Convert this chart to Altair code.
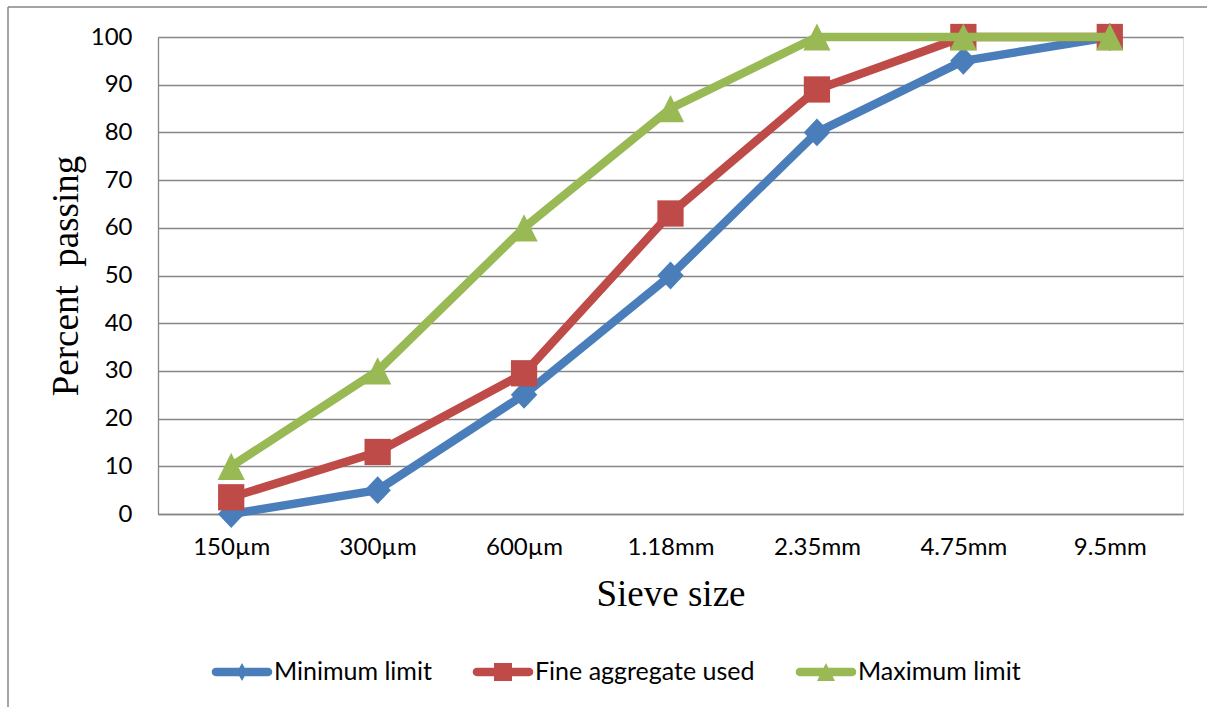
import altair as alt
import pandas as pd

sieve = ["150µm", "300µm", "600µm", "1.18mm", "2.35mm", "4.75mm", "9.5mm"]
series_names = ["Minimum limit", "Fine aggregate used", "Maximum limit"]
minimum = [0, 5, 25, 50, 80, 95, 100]
fine = [3.5, 13, 29.5, 63, 89, 100, 100]
maximum = [10, 30, 60, 85, 100, 100, 100]
colors = ["#4A7EBB", "#BE4B48", "#98B954"]

values = [minimum, fine, maximum]
rows = []
for name, vals in zip(series_names, values):
    for s, v in zip(sieve, vals):
        rows.append({"sieve": s, "pct": v, "series": name})
df = pd.DataFrame(rows)

marker_paths = [
    "M0,-1.05L1,0L0,1.05L-1,0Z",
    "M-1,-1L1,-1L1,1L-1,1Z",
    "M0,-1L1,1L-1,1Z",
]
marker_sizes = [700, 690, 740]

bar = "M-0.87,-0.14L0.87,-0.14A0.14,0.14 0 0 1 0.87,0.14L-0.87,0.14A0.14,0.14 0 0 1 -0.87,-0.14Z"
legend_paths = [
    bar + " M0,-0.3L0.167,0L0,0.3L-0.167,0Z",
    bar + " M-0.3,-0.3L0.3,-0.3L0.3,0.3L-0.3,0.3Z",
    bar + " M0,-0.3L0.3,0.3L-0.3,0.3Z",
]

x_enc = alt.X(
    "sieve:N",
    sort=sieve,
    scale=alt.Scale(padding=0.5),
    axis=alt.Axis(
        title="Sieve size",
        grid=False,
        ticks=False,
        labelAngle=0,
        labelFont="Lato",
        labelFontSize=24,
        labelColor="#000000",
        labelPadding=21,
        domainColor="#868686",
        domainWidth=1.3,
        titleFont="Liberation Serif",
        titleFontSize=37,
        titleFontWeight="normal",
        titleColor="#000000",
        titleBaseline="alphabetic",
        titleX=512.5,
        titleY=91,
    ),
)
y_enc = alt.Y(
    "pct:Q",
    scale=alt.Scale(domain=[0, 100], nice=False),
    axis=alt.Axis(
        title="Percent\u00a0 passing",
        values=list(range(0, 101, 10)),
        ticks=False,
        grid=True,
        gridColor="#868686",
        gridWidth=1.3,
        domainColor="#868686",
        domainWidth=1.3,
        labelFont="Lato",
        labelFontSize=24,
        labelColor="#000000",
        labelPadding=26,
        titleFont="Liberation Serif",
        titleFontSize=37,
        titleFontWeight="normal",
        titleColor="#000000",
        titleBaseline="alphabetic",
        titleAngle=-90,
        titleX=-81,
        titleY=238.5,
    ),
)

layers = []
for name, col, path, size in zip(series_names, colors, marker_paths, marker_sizes):
    base = alt.Chart(df).transform_filter(alt.datum.series == name)
    layers.append(
        base.mark_line(color=col, strokeWidth=8.5, strokeJoin="round", strokeCap="round").encode(x=x_enc, y=y_enc)
    )
    layers.append(
        base.mark_point(shape=path, size=size, filled=True, color=col, opacity=1).encode(x=x_enc, y=y_enc)
    )

leg = alt.Legend(
    title=None,
    orient="none",
    direction="horizontal",
    legendX=54,
    legendY=605,
    symbolSize=3600,
    symbolOpacity=1,
    symbolStrokeWidth=0,
    labelFont="Lato",
    labelFontSize=25,
    labelColor="#000000",
    labelOffset=2,
    labelLimit=0,
    columnPadding=40,
    padding=0,
)
legend_layer = alt.Chart(df).mark_point(filled=True, opacity=0).encode(
    x=x_enc,
    y=y_enc,
    color=alt.Color("series:N", scale=alt.Scale(domain=series_names, range=colors), legend=leg),
    shape=alt.Shape("series:N", scale=alt.Scale(domain=series_names, range=legend_paths), legend=leg),
)

frame_df = pd.DataFrame({"a": [0]})
frame_left = alt.Chart(frame_df).mark_rule(color="#868686", strokeWidth=1.5).encode(
    x=alt.value(-150), y=alt.value(-30), y2=alt.value(670)
)
frame_top = alt.Chart(frame_df).mark_rule(color="#868686", strokeWidth=1.5).encode(
    x=alt.value(-150), x2=alt.value(1049), y=alt.value(-30)
)

chart = alt.layer(frame_left, frame_top, legend_layer, *layers).properties(
    width=1025,
    height=477,
    autosize=alt.AutoSizeParams(type="none"),
    padding={"left": 158, "top": 37, "right": 24, "bottom": 193},
).configure_view(stroke=None).configure(background="#ffffff")

chart.save("out.html", embed_options={"renderer": "svg", "actions": False})
